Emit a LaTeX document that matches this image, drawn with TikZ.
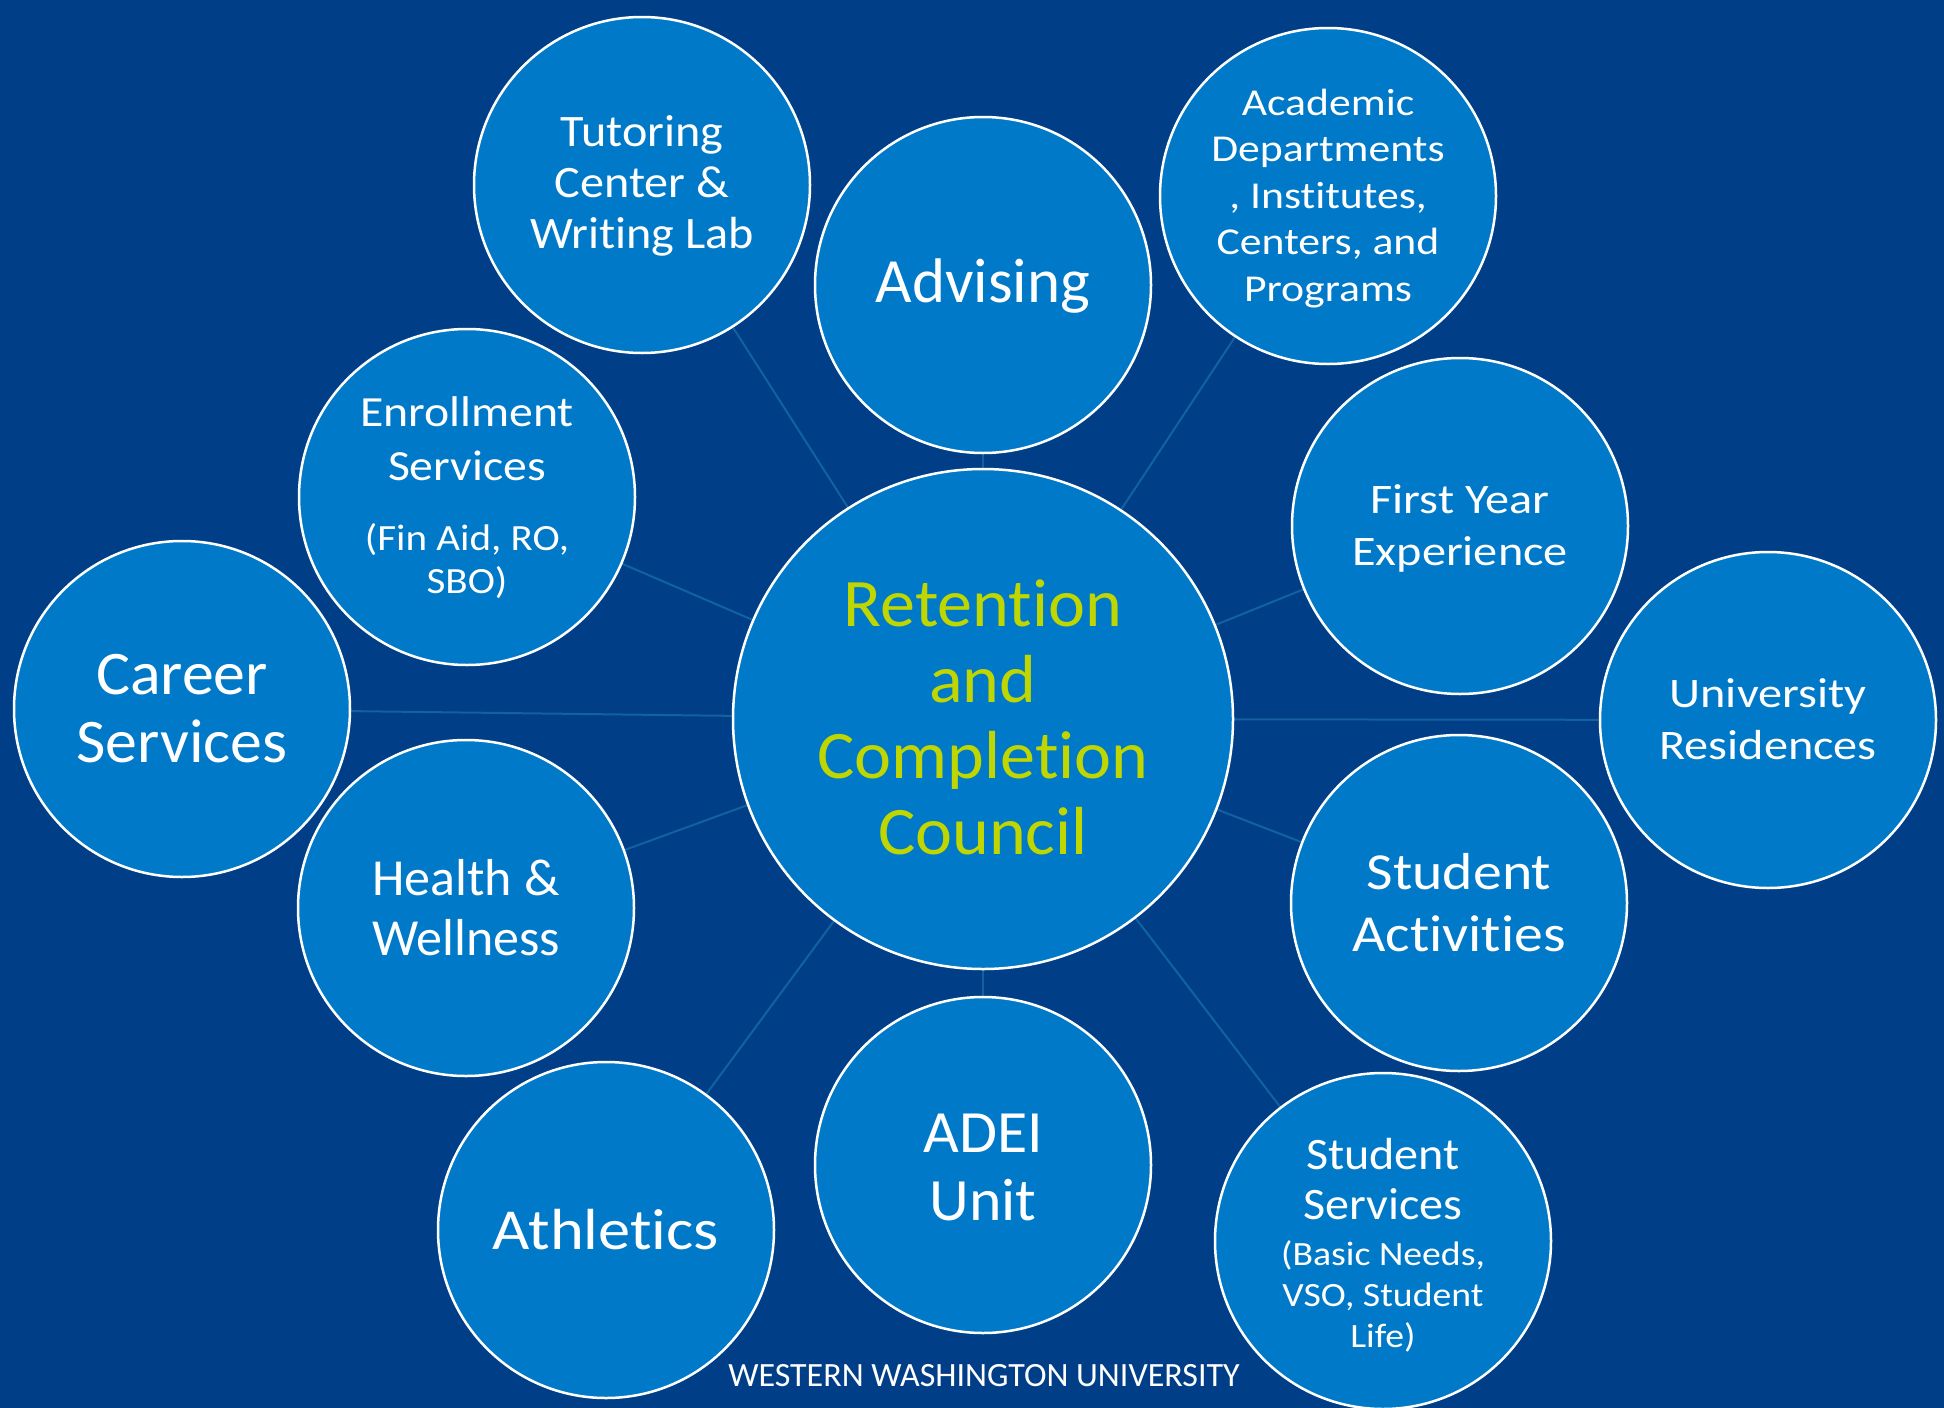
\documentclass[tikz,border=0pt]{standalone}
\usepackage{fontspec}
\setmainfont{Carlito}[Ligatures=NoCommon]
\newfontfamily\sA{Carlito}[Ligatures=NoCommon,FakeStretch=1.03]
\newfontfamily\sB{Carlito}[Ligatures=NoCommon,FakeStretch=1.07]
\newfontfamily\sC{Carlito}[Ligatures=NoCommon,FakeStretch=1.11]
\newfontfamily\sD{Carlito}[Ligatures=NoCommon,FakeStretch=1.15]
\usetikzlibrary{backgrounds}
\definecolor{bgblue}{RGB}{0,63,135}
\definecolor{bubblefill}{RGB}{0,121,200}
\definecolor{connblue}{RGB}{18,98,160}
\definecolor{hubtext}{RGB}{192,214,0}
\newcommand\fs[2]{\fontsize{#1}{#2}\selectfont}
\begin{document}
\begin{tikzpicture}[x=1pt,y=-1pt,
  bubble/.style={circle, draw=white, line width=2.5pt, fill=bubblefill, minimum size=336pt, inner sep=0pt},
  hub/.style={bubble, minimum size=500pt},
  lbl/.style={text=white, anchor=base, align=flush center, text width=380pt, inner sep=0pt},
  conn/.style={draw=connblue, line width=2pt}]
\useasboundingbox (0,0) rectangle (1944,1408);
% circles
\node[hub] (rcc) at (983,719) {};
\node[bubble] (tut) at (642,185) {};
\node[bubble] (adv) at (983,285) {};
\node[bubble] (acad) at (1328,196) {};
\node[bubble] (enr) at (467,497) {};
\node[bubble] (fye) at (1460,526) {};
\node[bubble] (car) at (182,709) {};
\node[bubble] (res) at (1768,720) {};
\node[bubble] (hw) at (466,908) {};
\node[bubble] (sa) at (1459,903) {};
\node[bubble] (ath) at (606,1230) {};
\node[bubble] (adei) at (983,1165) {};
\node[bubble] (ss) at (1383,1241) {};
\begin{scope}[on background layer]
  \fill[bgblue] (0,0) rectangle (1944,1408);
  \foreach \n in {tut,adv,acad,enr,fye,car,res,hw,sa,ath,adei,ss}
    \draw[conn] (rcc.center) -- (\n.center);
\end{scope}
% labels
\node[lbl, text=hubtext, font=\sA\fs{68}{76}] (rccT) at (983,626) {Retention\\and\\Completion\\Council};
\node[lbl, font=\sB\fs{45}{51}] (tutT) at (642,146) {Tutoring\\Center \&\\Writing Lab};
\node[lbl, font=\fs{63}{70}] (advT) at (983,302) {Advising};
\node[lbl, font=\sD\fs{38}{46.5}] (acadT) at (1328,115) {Academic\\Departments\\, Institutes,\\Centers, and\\Programs};
\node[lbl, font=\sC\fs{43}{54}] (enrT) at (467,426) {Enrollment\\Services};
\node[lbl, font=\sC\fs{37}{43}] (enrS) at (467,550) {(Fin Aid, RO,\\SBO)};
\node[lbl, font=\sD\fs{42}{52}] (fyeT) at (1460,513) {First Year\\Experience};
\node[lbl, font=\sA\fs{62}{68}] (carT) at (182,694) {Career\\Services};
\node[lbl, font=\sD\fs{42}{52}] (resT) at (1768,707) {University\\Residences};
\node[lbl, font=\fs{52}{60}] (hwT) at (466,895) {Health \&\\Wellness};
\node[lbl, font=\sC\fs{52}{62}] (saT) at (1459,889) {Student\\Activities};
\node[lbl, font=\sC\fs{58}{66}] (athT) at (606,1249) {Athletics};
\node[lbl, font=\sA\fs{60}{68}] (adeiT) at (983,1152) {ADEI\\Unit};
\node[lbl, font=\sB\fs{45}{50}] (ssT) at (1383,1169) {Student\\Services};
\node[lbl, font=\sC\fs{34}{41}] (ssS) at (1383,1265) {(Basic Needs,\\VSO, Student\\Life)};
\node[text=white, font=\fs{34}{40}, anchor=base, inner sep=0pt] (wwu) at (984,1386) {WESTERN WASHINGTON UNIVERSITY};
\end{tikzpicture}
\end{document}
